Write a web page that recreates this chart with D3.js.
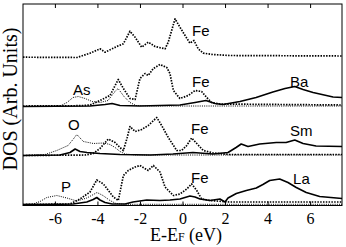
<!DOCTYPE html>
<html>
<head>
<meta charset="utf-8">
<script src="https://cdn.jsdelivr.net/npm/d3@7"></script>
<style>
    body { margin: 0; background: #fff; }
    svg { display: block; }
    .text_tick { font-family: "Liberation Serif", serif; font-size: 16px; }
    .text_axis { font-family: "Liberation Serif", serif; }
    .text_label { font-family: "Liberation Sans", Arial, sans-serif; font-size: 15px; }
</style>
</head>
<body>
<script>
    // energies are E-Ef (eV), values are DOS in arbitrary units above each panel's baseline
    const X_TICKS = [-6, -4, -2, 0, 2, 4, 6];

    // panel 1: Fe only
    const FE_1 = [[-7.5, 0.03], [-4.96, 0], [-4.35, 0.43], [-3.88, 0.87], [-3.64, 0.53], [-3.09, 1.1], [-2.78, 1.37],
        [-2.47, 2.63], [-2.23, 2.03], [-1.92, 1.03], [-1.61, 1.53], [-1.29, 1.1], [-0.82, 0.87], [-0.67, 1.53],
        [-0.35, 3.87], [-0.12, 3.03], [0.12, 2.2], [0.35, 1.43], [0.54, 1.7], [0.74, 0.87], [0.98, 0.43],
        [1.43, 0.3], [2.23, 0.2], [7.5, 0.15]];

    // panel 2: BaFe2As2
    const FE_2 = [[-7.5, 0.05], [-4.8, 0.08], [-4.35, 0.15], [-3.88, 0.6], [-3.41, 1.1], [-3.17, 2.1], [-3.02, 2.7],
        [-2.78, 1.8], [-2.47, 0.8], [-2.23, 0.7], [-2.0, 2.8], [-1.76, 3.3], [-1.61, 3.1], [-1.37, 3.8],
        [-1.06, 4.2], [-0.74, 3.9], [-0.59, 3.3], [-0.43, 1.6], [-0.12, 0.8], [0.27, 1.1], [0.59, 1.6],
        [0.9, 1.5], [1.14, 0.9], [1.37, 0.4], [1.76, 0.25], [7.5, 0.15]];
    const AS_2 = [[-7.5, 0], [-5.76, 0.05], [-5.43, 0.4], [-5.15, 0.9], [-4.9, 1.0], [-4.58, 0.8], [-4.25, 0.5],
        [-3.88, 0.4], [-3.5, 0.6], [-3.22, 1.4], [-3.03, 1.8], [-2.75, 1.0], [-2.47, 0.4], [-2.19, 0.1],
        [-1.5, 0.05], [7.5, 0.05]];
    const BA_2 = [[-7.5, 0], [-4.35, 0.05], [-3.64, 0.2], [-3.31, 0.3], [-2.94, 0.1], [-2.0, 0.05], [-1.06, 0.1],
        [-0.12, 0.15], [0.59, 0.4], [1.1, 0.6], [1.53, 0.3], [1.9, 0.2], [2.7, 0.5], [3.46, 0.9], [4.25, 1.45],
        [4.82, 1.8], [5.28, 2.0], [5.67, 1.7], [6.14, 1.4], [7.08, 0.95], [7.5, 0.9]];

    // panel 3: SmFeAsO
    const FE_3 = [[-7.5, 0], [-4.58, 0.05], [-4.2, 0.2], [-3.88, 0.7], [-3.49, 1.65], [-3.17, 1.3], [-2.94, 0.8],
        [-2.78, 0.5], [-2.6, 1.8], [-2.47, 2.9], [-2.23, 2.4], [-1.92, 2.6], [-1.61, 3.0], [-1.21, 3.8],
        [-0.98, 3.0], [-0.67, 1.8], [-0.27, 0.5], [-0.04, 0.5], [0.2, 1.0], [0.43, 1.75], [0.67, 1.2],
        [0.98, 0.5], [1.45, 0.25], [2.2, 0.1], [7.5, 0.1]];
    const O_3 = [[-7.5, 0], [-6.46, 0.1], [-5.91, 0.5], [-5.38, 1.0], [-5.15, 1.6], [-4.97, 2.1], [-4.66, 1.4],
        [-4.19, 1.2], [-3.72, 1.25], [-3.41, 1.1], [-3.17, 0.8], [-2.94, 0.4], [-2.7, 0.15], [-2.2, 0.05],
        [7.5, 0.05]];
    const SM_3 = [[-7.5, 0], [-5.76, 0.05], [-5.29, 0.3], [-5.05, 0.65], [-4.82, 0.4], [-4.49, 0.3], [-3.88, 0.2],
        [-2.94, 0.1], [-1.5, 0.05], [-0.45, 0.15], [0.49, 0.3], [1.43, 0.15], [2.14, 0.3], [2.52, 0.8],
        [2.76, 1.15], [3.08, 0.9], [3.63, 1.15], [4.41, 1.3], [4.87, 1.3], [5.28, 1.55], [5.67, 1.2],
        [6.28, 0.95], [7.5, 0.9]];

    // panel 4: LaFePO
    const FE_4 = [[-7.5, 0], [-5.29, 0.05], [-4.82, 0.55], [-4.35, 1.25], [-4.03, 2.45], [-3.72, 2.05], [-3.25, 0.75],
        [-3.02, 0.4], [-2.78, 2.9], [-2.55, 3.4], [-2.23, 3.75], [-2.0, 3.9], [-1.61, 3.4], [-1.37, 3.9],
        [-1.06, 3.25], [-0.82, 1.75], [-0.43, 0.9], [-0.12, 1.05], [0.2, 1.55], [0.43, 2.05], [0.67, 1.4],
        [0.9, 0.55], [1.29, 0.4], [2.2, 0.25], [7.5, 0.25]];
    const P_4 = [[-7.5, 0], [-7.03, 0.05], [-6.7, 0.3], [-6.38, 0.7], [-5.91, 0.9], [-5.44, 0.65], [-4.97, 0.35],
        [-4.5, 0.65], [-4.19, 1.0], [-4.02, 1.2], [-3.74, 0.9], [-3.41, 0.4], [-3.13, 0.1], [-2.7, 0.02],
        [7.5, 0.02]];
    const LA_4 = [[-7.5, 0], [-5.76, 0.02], [-5.15, 0.05], [-4.5, 0.25], [-4.2, 0.5], [-4.03, 0.7], [-3.88, 0.45],
        [-3.64, 0.2], [-3.31, 0.05], [-2.7, 0.05], [-2.33, 0.25], [-1.68, 0.45], [-1.06, 0.4], [-0.59, 0.45],
        [-0.12, 0.55], [0.35, 0.85], [0.59, 0.75], [0.82, 0.55], [1.29, 0.4], [1.76, 0.55], [2.0, 0.25],
        [2.14, 0.65], [2.53, 1.1], [3.0, 1.4], [3.47, 1.65], [3.78, 2.0], [4.1, 2.4], [4.57, 2.55],
        [4.96, 2.2], [5.35, 1.7], [5.82, 1.2], [6.45, 0.8], [7.5, 0.6]];

    // element labels: text, panel
    const LABEL_TEXT = ["Fe", "As", "Fe", "Ba", "O", "Fe", "Sm", "P", "Fe", "La"];
    const LABEL_PANEL = [0, 1, 1, 1, 2, 2, 2, 3, 3, 3];

    const CANVAS = { WIDTH: 346, HEIGHT: 247 };
    const PLOT = { LEFT: 23, RIGHT: 342, TOP: 4, BOTTOM: 205.5 };
    const PANEL_OFFSET = [14.7, 9.8, 4.9, 0];
    // label anchor (left edge in eV, baseline in DOS units above the panel baseline)
    const LABEL_POS = [[0.45, 2.15], [-5.15, 1.15], [0.45, 1.95], [5.05, 1.95], [-5.38, 2.55], [0.4, 2.15],
        [5.05, 1.95], [-5.71, 1.25], [0.4, 2.15], [5.2, 2.05]];
    const STYLE = {
        fe: { width: 1.7, dash: "1.5,1.3" },
        ligand: { width: 1, dash: "1,1.2" },
        solid: { width: 1.6, dash: null }
    };

    var series = [
        { data: FE_1, panel: 0, style: STYLE.fe },
        { data: AS_2, panel: 1, style: STYLE.ligand },
        { data: BA_2, panel: 1, style: STYLE.solid },
        { data: FE_2, panel: 1, style: STYLE.fe },
        { data: O_3, panel: 2, style: STYLE.ligand },
        { data: SM_3, panel: 2, style: STYLE.solid },
        { data: FE_3, panel: 2, style: STYLE.fe },
        { data: P_4, panel: 3, style: STYLE.ligand },
        { data: LA_4, panel: 3, style: STYLE.solid },
        { data: FE_4, panel: 3, style: STYLE.fe }
    ];

    var x = d3.scaleLinear().domain([-7.5, 7.5]).range([PLOT.LEFT, PLOT.RIGHT]);
    var y = d3.scaleLinear().domain([-0.1, 20]).range([PLOT.BOTTOM, PLOT.TOP + 0.5]);

    var canvas = d3.select("body")
        .append("svg")
        .attr("width", CANVAS.WIDTH)
        .attr("height", CANVAS.HEIGHT);

    // curves
    var line = d3.line()
        .x(function(d) { return x(d[0]); });

    series.forEach(function(s) {
        line.y(function(d) { return y(d[1] + PANEL_OFFSET[s.panel]); });
        canvas.append("path")
            .datum(s.data)
            .attr("fill", "none")
            .attr("stroke", "#000")
            .attr("stroke-width", s.style.width)
            .attr("stroke-dasharray", s.style.dash)
            .attr("stroke-linejoin", "round")
            .attr("d", line);
    });

    // frame
    canvas.append("rect")
        .attr("x", PLOT.LEFT)
        .attr("y", PLOT.TOP)
        .attr("width", PLOT.RIGHT - PLOT.LEFT)
        .attr("height", PLOT.BOTTOM - PLOT.TOP)
        .attr("fill", "none")
        .attr("stroke", "#000")
        .attr("stroke-width", 1);

    // axes
    var axisBottom = d3.axisBottom(x).tickValues(X_TICKS).tickSizeInner(-4).tickSizeOuter(0).tickPadding(7);
    var axisTop = d3.axisTop(x).tickValues(X_TICKS).tickSizeInner(-4).tickSizeOuter(0).tickFormat("");

    var gx = canvas.append("g")
        .attr("transform", "translate(0," + PLOT.BOTTOM + ")")
        .call(axisBottom);
    gx.select(".domain").remove();
    gx.selectAll("text")
        .attr("class", "text_tick")
        .attr("fill", "#000")
        .text(function(d) { return d < 0 ? "-" + Math.abs(d) : d; });

    var gt = canvas.append("g")
        .attr("transform", "translate(0," + PLOT.TOP + ")")
        .call(axisTop);
    gt.select(".domain").remove();

    // labels inside panels
    canvas.append("g")
        .selectAll("text")
        .data(LABEL_TEXT)
        .enter()
        .append("text")
        .attr("class", "text_label")
        .attr("x", function(d, i) { return x(LABEL_POS[i][0]); })
        .attr("y", function(d, i) { return y(LABEL_POS[i][1] + PANEL_OFFSET[LABEL_PANEL[i]]); })
        .text(function(d) { return d; });

    // axis titles
    var xlabel = canvas.append("text")
        .attr("class", "text_axis")
        .attr("font-size", "18px")
        .attr("text-anchor", "middle")
        .attr("x", 186)
        .attr("y", 241);
    xlabel.append("tspan").text("E-E");
    xlabel.append("tspan").attr("font-size", "12px").text("F");
    xlabel.append("tspan").text(" (eV)");

    canvas.append("text")
        .attr("class", "text_axis")
        .attr("font-size", "20px")
        .attr("text-anchor", "middle")
        .attr("transform", "translate(17,99) rotate(-90)")
        .text("DOS (Arb. Units)");
</script>
</body>
</html>
